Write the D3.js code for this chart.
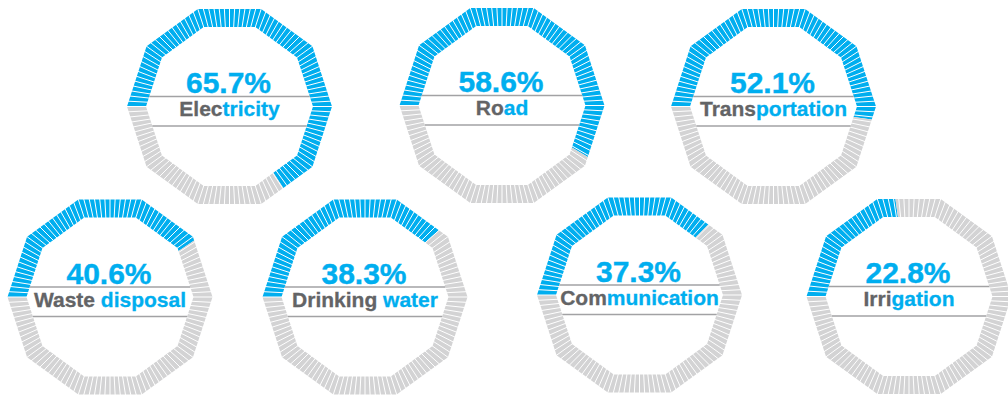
<!DOCTYPE html>
<html>
<head>
<meta charset="utf-8">
<script src="https://cdn.jsdelivr.net/npm/d3@7/dist/d3.min.js"></script>
<style>
  html, body { margin: 0; padding: 0; background: #fff; }
  svg { display: block; }
  text { font-family: "Liberation Sans", Arial, Helvetica, sans-serif; font-weight: bold; }
</style>
</head>
<body>
<svg id="chart" width="1008" height="396"></svg>
<script>
// Share of households with access to each service (%)
const categories = ["Electricity", "Road", "Transportation", "Waste disposal", "Drinking water", "Communication", "Irrigation"];
const values = [65.7, 58.6, 52.1, 40.6, 38.3, 37.3, 22.8];
// leading part of each label drawn in grey, the rest in blue
const labelHeads = ["Elec", "Ro", "Trans", "Waste ", "Drinking ", "Com", "Irri"];

const BLUE = "#00aeef";
const GREY = "#d3d3d4";
const TEXT_GREY = "#636466";
const RULE = "#a2a2a4";

// ring layout: two staggered rows
const centers = [
  [229.5, 106.5], [502, 105.5], [773.5, 106.5],
  [110, 297], [365, 297], [639.5, 295], [909, 296.5]
];
const R_OUT = 102.5, R_IN = 83.5, SIDES = 10, SEGMENTS = 120;

const svg = d3.select("#chart");

// fraction (0..1) -> angle, starting at the west vertex, running clockwise
const angle = d3.scaleLinear().domain([0, 1]).range([Math.PI, 3 * Math.PI]);
const pct = d3.scaleLinear().domain([0, 100]).range([0, 1]);

const STEP = 2 * Math.PI / SIDES;
function radiusAt(R, a) {
  let m = ((a % STEP) + STEP) % STEP;
  return R * Math.cos(STEP / 2) / Math.cos(m - STEP / 2);
}
function pt(R, a) {
  const r = radiusAt(R, a);
  return [r * Math.cos(a), r * Math.sin(a)];
}
// polygon band of the decagonal ring between two angles
function band(a0, a1) {
  const angs = [a0];
  let k = Math.floor(a0 / STEP) + 1;
  while (k * STEP < a1 - 1e-9) { angs.push(k * STEP); k++; }
  angs.push(a1);
  const outer = angs.map(a => pt(R_OUT, a));
  const inner = angs.slice().reverse().map(a => pt(R_IN, a));
  return d3.line()(outer.concat(inner)) + "Z";
}
// half-width of the inner decagon at a vertical offset dy
function innerHalfWidth(dy) {
  const h = R_IN * Math.sin(STEP);
  const t = Math.min(Math.abs(dy) / h, 1);
  return R_IN - t * (R_IN - R_IN * Math.cos(STEP));
}

categories.forEach((name, i) => {
  const [cx, cy] = centers[i];
  const g = svg.append("g").attr("transform", `translate(${cx},${cy})`);
  const f = pct(values[i]);

  g.append("path").attr("d", band(angle(0), angle(f))).attr("fill", BLUE);
  g.append("path").attr("d", band(angle(f), angle(1))).attr("fill", GREY);

  // white separators between segments
  g.selectAll("line.sep")
    .data(d3.range(SEGMENTS))
    .join("line")
    .attr("class", "sep")
    .each(function (d) {
      const a = angle(d / SEGMENTS);
      const p0 = pt(R_IN - 1, a), p1 = pt(R_OUT + 1, a);
      d3.select(this).attr("x1", p0[0]).attr("y1", p0[1]).attr("x2", p1[0]).attr("y2", p1[1]);
    })
    .attr("stroke", "#fff")
    .attr("stroke-width", 1);

  // rules around the label
  [-10, 19.5].forEach(dy => {
    const w = innerHalfWidth(dy);
    g.append("line")
      .attr("x1", -w).attr("x2", w).attr("y1", dy).attr("y2", dy)
      .attr("stroke", RULE).attr("stroke-width", 1.5);
  });

  g.append("text")
    .attr("x", -1).attr("y", -13.5)
    .attr("text-anchor", "middle")
    .attr("font-size", 30)
    .attr("fill", BLUE)
    .attr("stroke", BLUE).attr("stroke-width", 0.4)
    .text(values[i].toFixed(1) + "%");

  const head = labelHeads[i];
  const t = g.append("text")
    .attr("x", 0).attr("y", 9.5)
    .attr("text-anchor", "middle")
    .attr("font-size", 21)
    .attr("xml:space", "preserve")
    .style("white-space", "pre");
  t.append("tspan").attr("fill", TEXT_GREY).attr("stroke", TEXT_GREY).attr("stroke-width", 0.3).text(head);
  t.append("tspan").attr("fill", BLUE).attr("stroke", BLUE).attr("stroke-width", 0.3).text(name.slice(head.length));
});
</script>
</body>
</html>
